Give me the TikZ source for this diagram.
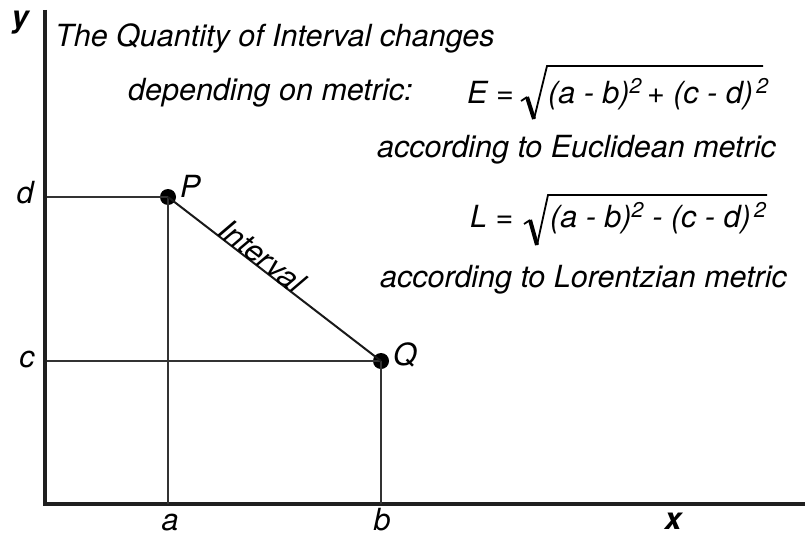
\documentclass[tikz,border=0pt]{standalone}
\usepackage{fontspec}
\setmainfont{TeX Gyre Heros}
\begin{document}
\begin{tikzpicture}[x=1pt,y=-1pt,
  txt/.style={inner sep=0pt,anchor=base west,font=\fontsize{30.5}{36}\selectfont\itshape},
  lbl/.style={inner sep=0pt,anchor=base,font=\fontsize{30.5}{36}\selectfont\itshape},
  axlbl/.style={inner sep=0pt,anchor=base,font=\fontsize{30.5}{36}\selectfont\bfseries\itshape},
  axis/.style={line width=4.5pt,draw=black!88},
  guide/.style={line width=1.1pt,draw=black!80},
  interval/.style={line width=2pt,draw=black!90},
  dot/.style={circle,fill=black,inner sep=0pt,minimum size=16pt},
  radthin/.style={line width=1.8pt},
  radthick/.style={line width=4pt}]
\useasboundingbox (0,0) rectangle (805,535);
% axes
\coordinate (ytop) at (45,10);
\coordinate (O) at (45,504);
\coordinate (xend) at (805,504);
\draw[axis] (ytop) -- (O |- 0,506);
\draw[axis] (43,504) -- (xend);
% points
\node[dot] (P) at (168,197) {};
\node[dot] (Q) at (381,361) {};
\coordinate (dy) at (47,197);
\coordinate (cy) at (47,361);
\draw[guide] (dy) -- (P.center);
\draw[guide] (P.center) -- (P |- O);
\draw[guide] (cy) -- (Q.center);
\draw[guide] (Q.center) -- (Q |- O);
\draw[interval] (P.center) -- node[pos=0.41,sloped,lbl,anchor=base] (ivl) {Interval} (Q.center);
% labels
\node[txt] (Plbl) at (180,197) {P};
\node[txt] (Qlbl) at (393,365) {Q};
\node[axlbl] (ylbl) at (20,28) {y};
\node[axlbl] (xlbl) at (673,529) {x};
\node[lbl] (dlbl) at (25,203) {d};
\node[lbl] (clbl) at (27,367) {c};
\node[lbl] (albl) at (170,530) {a};
\node[lbl] (blbl) at (382,530) {b};
% texts
\node[txt] (t1) at (55,47) {The Quantity of Interval changes};
\node[txt] (t2) at (128,100) {depending on metric:};
\node[txt] (t3) at (377,157) {according to Euclidean metric};
\node[txt] (t4) at (380,287) {according to Lorentzian metric};
% E formula
\node[txt] (Eeq) at (467,103) {E =};
\node[txt] (Ebody) at (548,103) {(a - b)\textsuperscript{2}\,+ (c - d)\textsuperscript{\,2}};
\draw[radthin] (521,101) -- (527,97);
\draw[radthick] (527,97) -- (534,119);
\draw[radthin,line join=miter] (534,119) -- (547,66) -- (763,66);
% L formula
\node[txt] (Leq) at (470,227) {L =};
\node[txt] (Lbody) at (550,227) {(a - b)\textsuperscript{2} - (c - d)\textsuperscript{\,2}};
\draw[radthin] (524,224) -- (530,220);
\draw[radthick] (530,220) -- (537,245);
\draw[radthin,line join=miter] (537,245) -- (548,195) -- (767,195);
\end{tikzpicture}
\end{document}
